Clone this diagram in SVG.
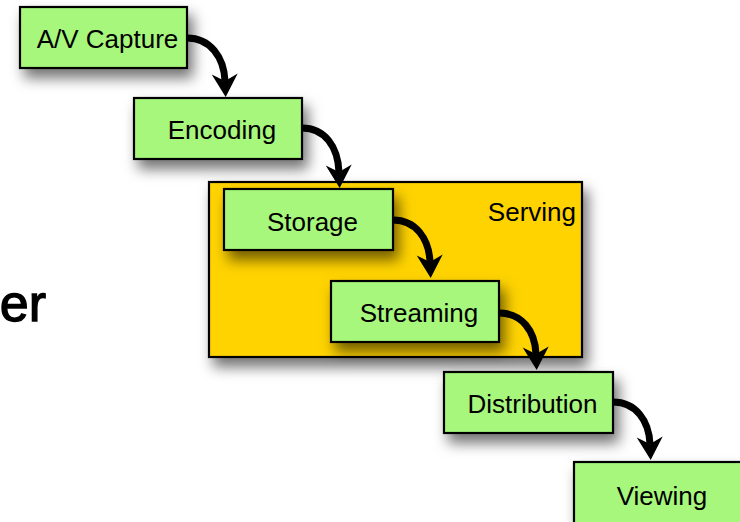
<svg xmlns="http://www.w3.org/2000/svg" width="740" height="522" viewBox="0 0 740 522">
  <style>
    .box { fill: #a6f77c; stroke: #000; stroke-width: 2.2; }
    .grp { fill: #ffd300; stroke: #000; stroke-width: 2.2; }
    .lbl { font-family: "Liberation Sans", Arial, Helvetica, sans-serif; font-size: 26px; fill: #000; text-anchor: middle; }
    .arr { fill: none; stroke: #000; stroke-width: 7; stroke-linecap: butt; marker-end: url(#head); }
  </style>
  <defs>
    <filter id="shadow" x="-25%" y="-30%" width="170%" height="200%">
      <feDropShadow dx="5" dy="9" stdDeviation="7" flood-color="#000" flood-opacity="0.55"/>
    </filter>
    <marker id="head" markerUnits="userSpaceOnUse" viewBox="-8 -14 26 28" refX="0" refY="0" markerWidth="26" markerHeight="28" orient="auto" overflow="visible">
      <path d="M16,0 L-7,-13 L0,0 L-7,13 Z" fill="#000"/>
    </marker>
  </defs>
  <rect width="740" height="522" fill="#fff"/>

  <text x="46" y="321" style="font-family: 'Liberation Sans', Arial, sans-serif; font-size: 52px; text-anchor: end; fill:#000; stroke:#000; stroke-width:1.3;">er</text>

  <g id="serving">
    <rect class="grp" x="209" y="182" width="373" height="175" filter="url(#shadow)"/>
    <text class="lbl" x="576" y="221" style="text-anchor:end">Serving</text>
  </g>

  <g id="av-capture">
    <rect class="box" x="20" y="7" width="167" height="61" filter="url(#shadow)"/>
    <text class="lbl" x="107.5" y="48">A/V Capture</text>
  </g>
  <g id="encoding">
    <rect class="box" x="134" y="98" width="168" height="61" filter="url(#shadow)"/>
    <text class="lbl" x="222" y="139">Encoding</text>
  </g>
  <g id="storage">
    <rect class="box" x="224" y="189" width="169" height="61" filter="url(#shadow)"/>
    <text class="lbl" x="312.5" y="231">Storage</text>
  </g>
  <g id="streaming">
    <rect class="box" x="331" y="281" width="168" height="61" filter="url(#shadow)"/>
    <text class="lbl" x="419" y="322">Streaming</text>
  </g>
  <g id="distribution">
    <rect class="box" x="444" y="372" width="169" height="61" filter="url(#shadow)"/>
    <text class="lbl" x="532.5" y="413">Distribution</text>
  </g>
  <g id="viewing">
    <rect class="box" x="574" y="462" width="168" height="62" filter="url(#shadow)"/>
    <text class="lbl" x="662" y="505">Viewing</text>
  </g>

  <g id="connectors">
    <path class="arr" d="M187,38 C210,38 224,57 225,81"/>
    <path class="arr" d="M302,128 C325,128 338,147 339,172"/>
    <path class="arr" d="M393,220 C416,220 429,239 430,262"/>
    <path class="arr" d="M499,313 C522,313 535,331 536,354"/>
    <path class="arr" d="M613,402 C636,402 649,421 650,444"/>
  </g>
</svg>
